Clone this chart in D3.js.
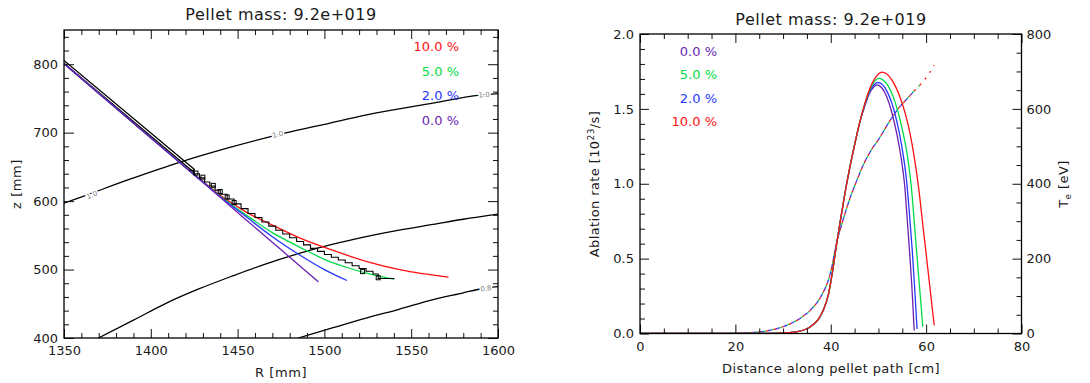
<!DOCTYPE html>
<html>
<head>
<meta charset="utf-8">
<script src="https://cdn.jsdelivr.net/npm/d3@7"></script>
<style>
  body { margin: 0; background: #fff; }
  svg { display: block; }
  text { font-family: "DejaVu Sans", sans-serif; }
</style>
</head>
<body>
<div id="chart"></div>
<script>
// ---- data ----
const titleText = "Pellet mass: 9.2e+019";
const caseNames = ["0.0 %", "2.0 %", "5.0 %", "10.0 %"];

// left panel: pellet trajectories in R-z plane [mm]
const pathR00 = [1350, 1390, 1424, 1440, 1455, 1470, 1480, 1496.5];
const pathZ00 = [801, 714, 640.5, 605.5, 572.5, 540, 518, 482];
const pathR02 = [1350, 1390, 1424, 1440, 1455, 1470, 1486, 1500, 1513];
const pathZ02 = [801, 714, 640.8, 606.5, 577, 548, 521, 500, 484];
const pathR05 = [1350, 1390, 1424, 1440, 1455, 1470, 1486, 1500, 1513, 1527, 1540];
const pathZ05 = [801, 714, 641, 607, 579.5, 554, 532.5, 515, 503, 493, 486];
const pathR10 = [1350, 1390, 1424, 1440, 1455, 1470, 1486, 1505, 1524, 1544, 1571.5];
const pathZ10 = [801, 714, 641.5, 608.5, 584, 565, 546, 528, 512, 499.5, 489];

// injection line outline
const injR = [1350, 1425, 1424.6, 1350];
const injZ = [805.5, 646.5, 642.5, 801.5];

// measured (stepped) trajectory
const measR = [1422, 1425, 1428, 1431, 1434, 1437, 1440, 1444, 1448, 1452, 1456, 1460, 1464, 1468, 1472, 1476, 1480, 1484, 1488, 1492, 1496, 1500, 1504, 1508, 1512, 1516, 1520, 1524, 1528, 1531, 1540];
const measZ = [645, 640, 634, 628, 622, 616, 610, 603, 596, 589, 582, 576, 569.5, 563.5, 557.5, 552, 546.5, 541, 536, 531, 526.5, 522, 518, 514, 510, 505.5, 501.5, 497.5, 493.5, 487, 486];
const markR = [1426, 1430, 1436, 1440, 1444, 1448, 1522, 1531];
const markZ = [641, 635, 623, 614, 606, 598, 497, 488];

// flux-surface contours
const cont1R = [1350, 1361, 1388, 1417, 1445, 1472.5, 1500, 1524.4, 1560, 1589.6, 1600];
const cont1Z = [597, 607, 632, 657, 678, 696.5, 712, 726, 742, 754.8, 757];
const cont2R = [1369.8, 1390, 1409, 1428, 1447.5, 1466, 1486, 1505, 1524, 1543, 1562.7, 1580, 1600];
const cont2Z = [400, 426, 451, 472, 491, 508, 524, 537, 548, 557.5, 566, 573.5, 581];
const cont3R = [1485, 1505, 1524, 1543, 1562.7, 1580, 1589.6, 1600];
const cont3Z = [400, 415, 429, 442, 456, 466, 471.6, 475];
const contLabelText = ["1.0", "1.0", "1.0", "0.8"];
const contLabelR = [1366, 1473, 1592, 1593];
const contLabelZ = [609, 697.5, 755.5, 472.5];

// right panel: ablation rate [1e23/s] along pellet path [cm]
const ablX00 = [0, 15, 22, 26, 29, 31, 33, 34.5, 35.5, 36.5, 37.5, 38.5, 39.5, 40.3, 41, 42, 43, 44, 45, 46, 47, 48, 49, 49.7, 50.7, 51.7, 52.7, 53.7, 54.7, 55.5, 56, 56.5, 57, 57.5];
const ablY00 = [0, 0, 0, 0.001, 0.002, 0.005, 0.012, 0.025, 0.04, 0.065, 0.1, 0.16, 0.26, 0.4, 0.55, 0.75, 0.94, 1.11, 1.26, 1.4, 1.505, 1.595, 1.645, 1.66, 1.641, 1.584, 1.489, 1.356, 1.185, 0.99, 0.78, 0.56, 0.32, 0.02];
const ablX02 = [0, 15, 22, 26, 29, 31, 33, 34.5, 35.5, 36.5, 37.5, 38.5, 39.5, 40.3, 41, 42, 43, 44, 45, 46, 47, 48, 49, 49.9, 50.9, 51.9, 52.9, 53.9, 54.9, 55.9, 56.5, 57.1, 57.6, 58.1];
const ablY02 = [0, 0, 0, 0.001, 0.002, 0.005, 0.012, 0.025, 0.04, 0.065, 0.1, 0.16, 0.26, 0.4, 0.55, 0.75, 0.94, 1.11, 1.26, 1.4, 1.512, 1.607, 1.658, 1.676, 1.66, 1.61, 1.53, 1.41, 1.25, 1.02, 0.8, 0.55, 0.3, 0.03];
const ablX05 = [0, 15, 22, 26, 29, 31, 33, 34.5, 35.5, 36.5, 37.5, 38.5, 39.5, 40.3, 41, 42, 43, 44, 45, 46, 47, 48, 49, 50.1, 51.1, 52.1, 53.1, 54.1, 55.1, 56.1, 56.9, 57.5, 58.1, 58.7, 59.3];
const ablY05 = [0, 0, 0, 0.001, 0.002, 0.005, 0.012, 0.025, 0.04, 0.065, 0.1, 0.16, 0.26, 0.4, 0.55, 0.75, 0.94, 1.11, 1.26, 1.4, 1.518, 1.613, 1.675, 1.704, 1.69, 1.65, 1.58, 1.48, 1.35, 1.18, 0.98, 0.75, 0.51, 0.28, 0.045];
const ablX10 = [0, 15, 22, 26, 29, 31, 33, 34.5, 35.5, 36.5, 37.5, 38.5, 39.5, 40.3, 41, 42, 43, 44, 45, 46, 47, 48, 49, 50, 50.7, 51.7, 52.7, 53.7, 54.7, 55.7, 56.6, 57.5, 58.4, 59.4, 60.4, 61, 61.7];
const ablY10 = [0, 0, 0, 0.001, 0.002, 0.005, 0.012, 0.025, 0.04, 0.065, 0.1, 0.16, 0.26, 0.4, 0.55, 0.75, 0.94, 1.11, 1.26, 1.4, 1.52, 1.62, 1.69, 1.733, 1.745, 1.734, 1.699, 1.642, 1.563, 1.46, 1.34, 1.18, 0.98, 0.7, 0.42, 0.25, 0.055];
const ablEnd = [57.5, 58.1, 59.3, 61.7];

// electron temperature [eV] along pellet path
const teX = [0, 16, 20, 24, 27, 30, 32, 34, 36, 38, 40, 41.2, 42.5, 44, 45.5, 47, 48.5, 50, 52, 54, 56, 57.5, 58.1, 59.3, 60.5, 61.7];
const teV = [0, 0, 1, 3, 8, 18, 29, 44, 66, 100, 165, 240, 300, 360, 410, 455, 490, 518, 560, 598, 627, 648, 656, 672, 692, 717];

// tick labels
const xTicksL = [1350, 1400, 1450, 1500, 1550, 1600];
const yTicksL = [400, 500, 600, 700, 800];
const xTicksR = [0, 20, 40, 60, 80];
const yTicksA = [0, 0.5, 1, 1.5, 2];
const yTicksT = [0, 200, 400, 600, 800];

// ---- styles ----
const caseColor = ["#6a1fb2", "#2438ff", "#00dc48", "#ff1010"];
const ink = "#1a1a1a";
const W = 1090, H = 383;

const svg = d3.select("#chart").append("svg")
  .attr("width", W).attr("height", H);

function zip(a, b) { return a.map((v, i) => [v, b[i]]); }

function label(g, x, y, txt, size, opts) {
  opts = opts || {};
  return g.append("text")
    .attr("transform", `translate(${x},${y})` + (opts.rotate ? ` rotate(${opts.rotate})` : ""))
    .attr("text-anchor", opts.anchor || "middle")
    .style("font-size", size + "px")
    .style("letter-spacing", (opts.ls || 0) + "px")
    .style("fill", opts.color || ink)
    .text(txt);
}

function ticks(g, axisFn, scale, major, minor, len, minLen, translate, labels, fmt, pad) {
  const a = axisFn(scale).tickValues(major).tickSize(-len).tickPadding(pad || 6)
    .tickFormat(labels ? fmt : () => "");
  const ga = g.append("g").attr("transform", translate).call(a);
  ga.select(".domain").remove();
  ga.selectAll("line").attr("stroke", "#111").attr("stroke-width", 1);
  ga.selectAll("text").style("font-size", "13px").style("fill", ink)
    .style("font-family", '"DejaVu Sans", sans-serif');
  const b = axisFn(scale).tickValues(minor).tickSize(-minLen).tickFormat(() => "");
  const gb = g.append("g").attr("transform", translate).call(b);
  gb.select(".domain").remove();
  gb.selectAll("line").attr("stroke", "#111").attr("stroke-width", 1);
}

// ================= left panel =================
const xL = d3.scaleLinear([1350, 1600], [64, 498]);
const yL = d3.scaleLinear([400, 850], [338, 30]);
const gL = svg.append("g");

gL.append("clipPath").attr("id", "clipL").append("rect")
  .attr("x", 64).attr("y", 30).attr("width", 434).attr("height", 308);
const plotL = gL.append("g").attr("clip-path", "url(#clipL)");

const lineL = d3.line().x(d => xL(d[0])).y(d => yL(d[1])).curve(d3.curveMonotoneX);
const lineLin = d3.line().x(d => xL(d[0])).y(d => yL(d[1]));

[[cont1R, cont1Z], [cont2R, cont2Z], [cont3R, cont3Z]].forEach(c => {
  plotL.append("path").datum(zip(c[0], c[1])).attr("d", lineL)
    .attr("fill", "none").attr("stroke", "#000").attr("stroke-width", 1.3);
});

// contour labels, breaking the line like IDL does
const contAll = [[cont1R, cont1Z], [cont1R, cont1Z], [cont1R, cont1Z], [cont3R, cont3Z]];
contLabelText.forEach((t, i) => {
  const [cr, cz] = contAll[i];
  let k = 0;
  while (k < cr.length - 2 && cr[k + 1] < contLabelR[i]) k++;
  const ang = Math.atan2(yL(cz[k + 1]) - yL(cz[k]), xL(cr[k + 1]) - xL(cr[k])) * 180 / Math.PI;
  label(gL, xL(contLabelR[i]), yL(contLabelZ[i]), t, 7, { rotate: ang, color: "#808080" })
    .attr("dy", "0.35em")
    .attr("stroke", "#fff").attr("stroke-width", 3).attr("paint-order", "stroke");
});

// injection line
plotL.append("path").datum(zip(injR, injZ)).attr("d", lineLin)
  .attr("fill", "none").attr("stroke", "#000").attr("stroke-width", 1.3);

// trajectories (purple on top)
const pathsL = [[pathR00, pathZ00], [pathR02, pathZ02], [pathR05, pathZ05], [pathR10, pathZ10]];
[3, 2, 1, 0].forEach(i => {
  plotL.append("path").datum(zip(pathsL[i][0], pathsL[i][1])).attr("d", lineL)
    .attr("fill", "none").attr("stroke", caseColor[i]).attr("stroke-width", 1.3);
});

// measured stepped path
plotL.append("path").datum(zip(measR, measZ))
  .attr("d", d3.line().x(d => xL(d[0])).y(d => yL(d[1])).curve(d3.curveStepAfter))
  .attr("fill", "none").attr("stroke", "#000").attr("stroke-width", 1.1);
plotL.selectAll("rect.mk").data(zip(markR, markZ)).enter().append("rect")
  .attr("class", "mk")
  .attr("x", d => xL(d[0]) - 2).attr("y", d => yL(d[1]) - 2)
  .attr("width", 4).attr("height", 4)
  .attr("fill", "none").attr("stroke", "#000").attr("stroke-width", 1);

// axes left panel
const minorRL = d3.range(1360, 1600, 10).filter(v => v % 50);
const minorZL = d3.range(420, 850, 20).filter(v => v % 100);
ticks(gL, d3.axisBottom, xL, xTicksL, minorRL, 9, 5, "translate(0,338)", true, d3.format("d"), 8);
ticks(gL, d3.axisTop, xL, xTicksL, minorRL, 9, 5, "translate(0,30)", false);
ticks(gL, d3.axisLeft, yL, yTicksL, minorZL, 10, 5, "translate(64,0)", true, d3.format("d"), 6);
ticks(gL, d3.axisRight, yL, yTicksL, minorZL, 10, 5, "translate(498,0)", false);
gL.append("rect").attr("x", 64).attr("y", 30).attr("width", 434).attr("height", 308)
  .attr("fill", "none").attr("stroke", "#000").attr("stroke-width", 1.3);

// legend left
[3, 2, 1, 0].forEach((ci, r) => {
  label(gL, 459, 51 + r * 24.5, caseNames[ci], 13, { anchor: "end", color: caseColor[ci] });
});

label(gL, 281, 20, titleText, 16, { ls: 0.5 });
label(gL, 281, 377, "R [mm]", 13, { ls: 0.6 });
label(gL, 21, 184, "z [mm]", 13, { rotate: -90, ls: 0.6 });

// ================= right panel =================
const xR = d3.scaleLinear([0, 80], [640, 1021.5]);
const yA = d3.scaleLinear([0, 2], [333.5, 34]);
const yT = d3.scaleLinear([0, 800], [333.5, 34]);
const gR = svg.append("g");

gR.append("clipPath").attr("id", "clipR").append("rect")
  .attr("x", 640).attr("y", 34).attr("width", 381.5).attr("height", 299.5);
const plotR = gR.append("g").attr("clip-path", "url(#clipR)");

// electron temperature, dashed, one per case
const lineT = d3.line().x(d => xR(d[0])).y(d => yT(d[1])).curve(d3.curveMonotoneX);
const teAll = zip(teX, teV);
[0, 1, 2, 3].forEach(i => {
  plotR.append("path").datum(teAll.filter(d => d[0] <= ablEnd[i] + 1e-6)).attr("d", lineT)
    .attr("fill", "none").attr("stroke", caseColor[i]).attr("stroke-width", 1.3)
    .attr("stroke-dasharray", "2,6").attr("stroke-dashoffset", -2 * i);
});

// ablation rate, red on top
const lineA = d3.line().x(d => xR(d[0])).y(d => yA(d[1])).curve(d3.curveMonotoneX);
const abl = [[ablX00, ablY00], [ablX02, ablY02], [ablX05, ablY05], [ablX10, ablY10]];
[0, 1, 2, 3].forEach(i => {
  plotR.append("path").datum(zip(abl[i][0], abl[i][1])).attr("d", lineA)
    .attr("fill", "none").attr("stroke", caseColor[i]).attr("stroke-width", 1.3);
});

// axes right panel
const fmt1 = d3.format(".1f");
const minorX = d3.range(5, 80, 5).filter(v => v % 20);
ticks(gR, d3.axisBottom, xR, xTicksR, minorX, 9, 5, "translate(0,333.5)", true, d3.format("d"), 8);
ticks(gR, d3.axisTop, xR, xTicksR, minorX, 9, 5, "translate(0,34)", false);
ticks(gR, d3.axisLeft, yA, yTicksA, d3.range(1, 20).filter(v => v % 5).map(v => v / 10), 9, 5,
  "translate(640,0)", true, fmt1, 6);
ticks(gR, d3.axisRight, yT, yTicksT, d3.range(50, 800, 50).filter(v => v % 200), 9, 5,
  "translate(1021.5,0)", true, d3.format("d"), 5);
gR.append("rect").attr("x", 640).attr("y", 34).attr("width", 381.5).attr("height", 299.5)
  .attr("fill", "none").attr("stroke", "#000").attr("stroke-width", 1.3);

// legend right
[0, 2, 1, 3].forEach((ci, r) => {
  label(gR, 717, 55.5 + r * 23.6, caseNames[ci], 13, { anchor: "end", color: caseColor[ci] });
});

label(gR, 831, 25, titleText, 16, { ls: 0.5 });
label(gR, 831, 373, "Distance along pellet path [cm]", 13, { ls: 0.4 });

const abLab = label(gR, 599, 184, "", 13, { rotate: -90, ls: 0.4 });
abLab.append("tspan").text("Ablation rate [10");
abLab.append("tspan").attr("dy", "-5").style("font-size", "9px").text("23");
abLab.append("tspan").attr("dy", "5").text("/s]");

const teLab = label(gR, 1068, 184, "", 13, { rotate: -90, ls: 0.4 });
teLab.append("tspan").text("T");
teLab.append("tspan").attr("dy", "3").style("font-size", "9px").text("e");
teLab.append("tspan").attr("dy", "-3").text(" [eV]");
</script>
</body>
</html>
